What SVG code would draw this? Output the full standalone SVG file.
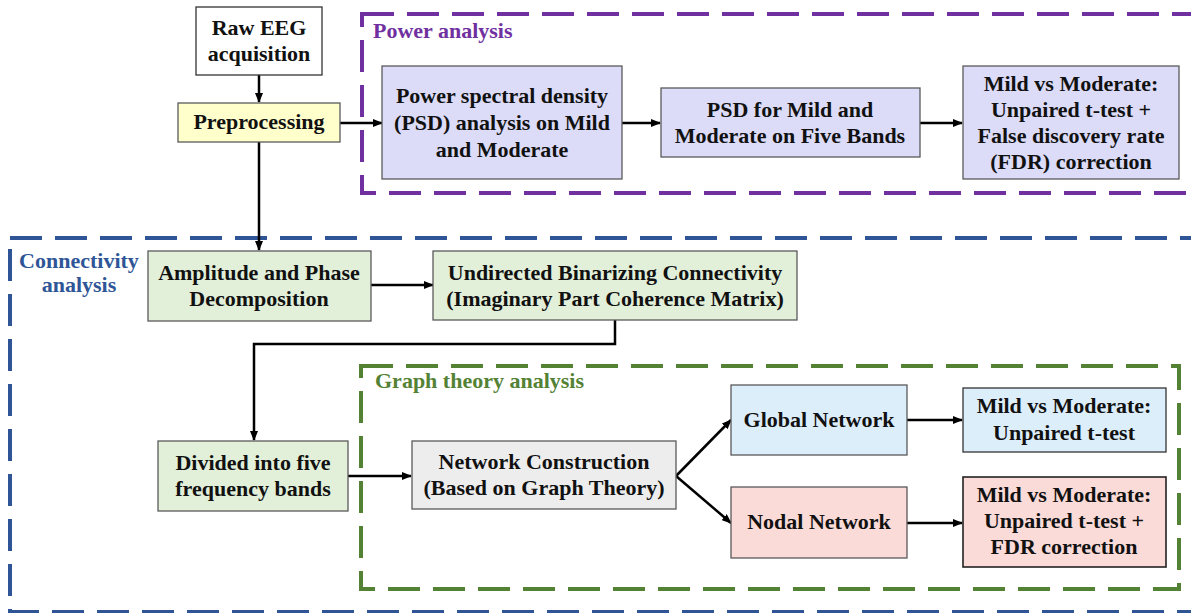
<svg xmlns="http://www.w3.org/2000/svg" width="1191" height="613" viewBox="0 0 1191 613">
<defs>
<marker id="ah" markerWidth="10" markerHeight="8" refX="9" refY="4" orient="auto" markerUnits="userSpaceOnUse">
<path d="M0,0 L10,4 L0,8 z" fill="#000"/>
</marker>
<style>
text{font-family:"Liberation Serif","Times New Roman",serif;font-weight:bold;font-size:22px;fill:#111;text-anchor:middle}
.lbl{text-anchor:start}
.box{stroke:#5a5a5a;stroke-width:1.3}
.grp{fill:none;stroke-width:4;stroke-dasharray:32 13}
.con{fill:none;stroke:#000;stroke-width:2.5}
</style>
</defs>
<rect width="1191" height="613" fill="#fff"/>
<g id="groups">
<rect class="grp" x="362" y="14" width="840" height="179" stroke="#7030A0"/>
<text class="lbl" x="373" y="38" style="fill:#7030A0">Power analysis</text>
<rect class="grp" x="10" y="238" width="1200" height="374" stroke="#2F5597"/>
<text x="79" y="268" style="fill:#2F5597">Connectivity</text>
<text x="79" y="292" style="fill:#2F5597">analysis</text>
<rect class="grp" x="361" y="366" width="818" height="223" stroke="#548235"/>
<text class="lbl" x="375" y="388" style="fill:#548235">Graph theory analysis</text>
</g>
<g id="connectors">
<line class="con" x1="259" y1="75" x2="259" y2="102" marker-end="url(#ah)"/>
<line class="con" x1="340" y1="123" x2="382" y2="123" marker-end="url(#ah)"/>
<line class="con" x1="622" y1="123" x2="660" y2="123" marker-end="url(#ah)"/>
<line class="con" x1="920" y1="123" x2="962" y2="123" marker-end="url(#ah)"/>
<line class="con" x1="259" y1="142" x2="259" y2="250" marker-end="url(#ah)"/>
<line class="con" x1="371" y1="285" x2="433" y2="285" marker-end="url(#ah)"/>
<polyline class="con" points="615,320 615,344 254,344 254,440" marker-end="url(#ah)"/>
<line class="con" x1="348" y1="476" x2="411" y2="476" marker-end="url(#ah)"/>
<line class="con" x1="676" y1="476" x2="731" y2="420" marker-end="url(#ah)"/>
<line class="con" x1="676" y1="476" x2="731" y2="523" marker-end="url(#ah)"/>
<line class="con" x1="907" y1="420" x2="962" y2="420" marker-end="url(#ah)"/>
<line class="con" x1="907" y1="523" x2="962" y2="523" marker-end="url(#ah)"/>
</g>
<g id="raw">
<rect class="box" x="196" y="7" width="126" height="68" fill="#fff" style="stroke:#333"/>
<text x="259" y="35">Raw EEG</text>
<text x="259" y="61">acquisition</text>
</g>
<g id="pre">
<rect class="box" x="178" y="103" width="162" height="39" fill="#FFFFCC"/>
<text x="259" y="129">Preprocessing</text>
</g>
<g id="psd">
<rect class="box" x="382" y="66" width="240" height="113" fill="#DCDCF8"/>
<text x="502" y="103">Power spectral density</text>
<text x="502" y="130">(PSD) analysis on Mild</text>
<text x="502" y="157">and Moderate</text>
</g>
<g id="psdbands">
<rect class="box" x="661" y="88" width="259" height="69" fill="#DCDCF8"/>
<text x="790" y="117">PSD for Mild and</text>
<text x="790" y="143">Moderate on Five Bands</text>
</g>
<g id="powerstat">
<rect class="box" x="963" y="66" width="216" height="113" fill="#DCDCF8"/>
<text x="1071" y="91">Mild vs Moderate:</text>
<text x="1071" y="117">Unpaired t-test +</text>
<text x="1071" y="143">False discovery rate</text>
<text x="1071" y="169">(FDR) correction</text>
</g>
<g id="amp">
<rect class="box" x="148" y="251" width="223" height="70" fill="#E2EFD9"/>
<text x="259" y="280">Amplitude and Phase</text>
<text x="259" y="306">Decomposition</text>
</g>
<g id="undirected">
<rect class="box" x="433" y="251" width="364" height="69" fill="#E2EFD9"/>
<text x="615" y="280">Undirected Binarizing Connectivity</text>
<text x="615" y="306">(Imaginary Part Coherence Matrix)</text>
</g>
<g id="divided">
<rect class="box" x="158" y="441" width="190" height="70" fill="#E2EFD9"/>
<text x="253" y="470">Divided into five</text>
<text x="253" y="496">frequency bands</text>
</g>
<g id="network">
<rect class="box" x="412" y="441" width="264" height="68" fill="#EDEDED"/>
<text x="544" y="469">Network Construction</text>
<text x="544" y="495">(Based on Graph Theory)</text>
</g>
<g id="global">
<rect class="box" x="731" y="385" width="176" height="70" fill="#DDEEFB"/>
<text x="819" y="427">Global Network</text>
</g>
<g id="globalstat">
<rect class="box" x="963" y="388" width="203" height="64" fill="#DDEEFB" style="stroke:#333"/>
<text x="1064" y="413">Mild vs Moderate:</text>
<text x="1064" y="440">Unpaired t-test</text>
</g>
<g id="nodal">
<rect class="box" x="731" y="487" width="176" height="71" fill="#FADBD8"/>
<text x="819" y="529">Nodal Network</text>
</g>
<g id="nodalstat">
<rect class="box" x="963" y="477" width="203" height="90" fill="#FADBD8" style="stroke:#222;stroke-width:1.6"/>
<text x="1064" y="502">Mild vs Moderate:</text>
<text x="1064" y="528">Unpaired t-test +</text>
<text x="1064" y="554">FDR correction</text>
</g>
</svg>
